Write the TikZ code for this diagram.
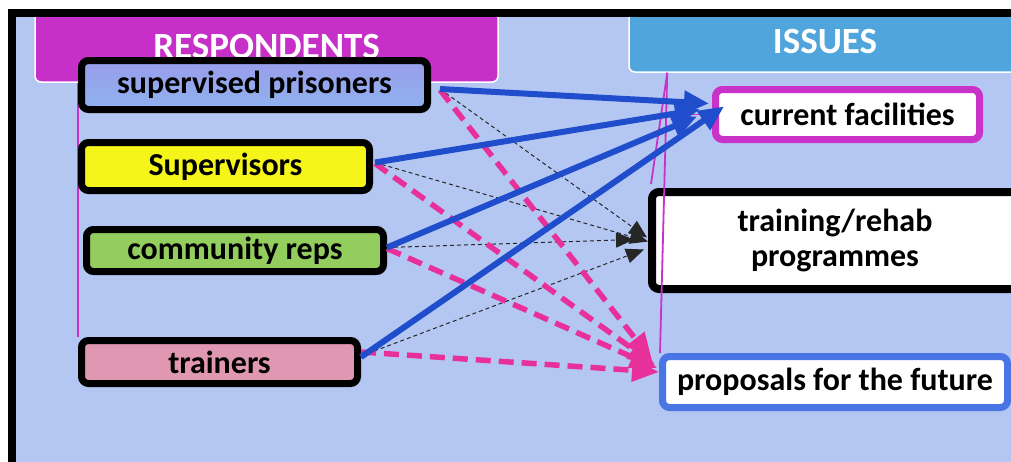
\documentclass[tikz,border=0pt]{standalone}
\usepackage{fontspec}
\setmainfont{Carlito}
\usetikzlibrary{arrows.meta}

\definecolor{bgblue}{RGB}{180,199,243}
\definecolor{resphead}{RGB}{198,48,200}
\definecolor{issuehead}{RGB}{79,165,220}
\definecolor{spTop}{RGB}{153,157,235}
\definecolor{spBot}{RGB}{143,178,238}
\definecolor{supyellow}{RGB}{245,245,26}
\definecolor{crgreen}{RGB}{146,205,94}
\definecolor{trpink}{RGB}{224,151,177}
\definecolor{cfmag}{RGB}{200,50,200}
\definecolor{pfblue}{RGB}{74,117,229}
\definecolor{arrblue}{RGB}{31,77,203}
\definecolor{arrpink}{RGB}{232,48,154}

\pgfdeclarelayer{panel}
\pgfdeclarelayer{under}
\pgfsetlayers{panel,under,main}

\tikzset{
  header/.style={rectangle, rounded corners=6pt, draw=white, line width=1.5pt,
    text=white, font=\bfseries\fontsize{37}{40}\selectfont, inner sep=0pt},
  respbox/.style={rectangle, rounded corners=7pt, draw=black, line width=7pt,
    font=\bfseries\fontsize{32}{35}\selectfont, inner sep=0pt},
  issuebox/.style={rectangle, rounded corners=7pt, fill=white, line width=7pt,
    font=\bfseries\fontsize{32}{35}\selectfont, inner sep=0pt, align=center},
  linkline/.style={draw=cfmag, line width=1.8pt},
  facarrow/.style={draw=arrblue, line width=6pt,
    -{Triangle[length=25pt,width=22pt]}},
  progarrow/.style={draw=black!85, line width=1pt, dash pattern=on 4pt off 3pt,
    -{Triangle[length=18pt,width=15pt]}},
  proparrow/.style={draw=arrpink, line width=5.5pt, dash pattern=on 15pt off 8pt,
    -{Triangle[length=27pt,width=22pt]}}
}

\begin{document}
\begin{tikzpicture}[x=1pt,y=-1pt]
\useasboundingbox (0,0) rectangle (1011,461);
\clip (0,0) rectangle (1011,461);

\begin{pgfonlayer}{panel}
% panel background
\fill[bgblue] (12,13) rectangle (1040,480);
% column headers
\node[header, fill=resphead, minimum width=463pt, minimum height=71pt]
  (rh) at (266.5,46.5) {RESPONDENTS};
\node[header, fill=issuehead, minimum width=392pt, minimum height=60pt]
  (ih) at (825,42) {ISSUES};
% panel frame
\draw[black, line width=8pt] (12,13) rectangle (1040,480);
\end{pgfonlayer}

% issues
\node[issuebox, draw=black, line width=8pt, minimum width=366pt, minimum height=97pt]
  (tp) at (835,240.5) {training/rehab\\programmes};
\node[issuebox, draw=cfmag, minimum width=264pt, minimum height=50pt]
  (cf) at (847.5,114.5) {current facilities};
\node[issuebox, draw=pfblue, minimum width=345pt, minimum height=51pt]
  (pf) at (835,382) {proposals for the future};

% issues bracket lines (offsets in picture units, y downwards)
\draw[linkline] ([xshift=39pt]ih.south west) -- ([shift={(3,-4)}]tp.north west);
\draw[linkline] ([xshift=39pt]ih.south west) -- ([xshift=1pt]pf.north west);
\draw[linkline] ([xshift=-45pt]cf.west) -- (cf.west);

% respondents
\node[respbox, top color=spTop, bottom color=spBot, minimum width=346pt, minimum height=49pt]
  (sp) at (254.5,85) {supervised prisoners};
\node[respbox, fill=supyellow, minimum width=288pt, minimum height=48pt]
  (sup) at (225.5,166.5) {Supervisors};
\node[respbox, fill=crgreen, minimum width=297pt, minimum height=42pt]
  (cr) at (235,250.5) {community reps};
\node[respbox, fill=trpink, minimum width=276pt, minimum height=43pt]
  (tr) at (219.5,362) {trainers};

% respondents bracket line, behind the boxes
\begin{pgfonlayer}{under}
\draw[linkline] (tr.north west |- rh.south) -- (tr.north west);
\end{pgfonlayer}

% respondents -> training/rehab programmes
\draw[progarrow] ([shift={(9,4)}]sp.east) -- ([shift={(-1,-3)}]tp.west);
\draw[progarrow] ([shift={(2,-4)}]sup.east) -- ([shift={(0,1)}]tp.west);
\draw[progarrow] ([shift={(0,-3)}]cr.east) -- ([shift={(-14,-1)}]tp.west);
\draw[progarrow] ([shift={(0,-6)}]tr.east) -- ([shift={(-4,9)}]tp.west);

% respondents -> proposals for the future
\draw[proparrow] ([shift={(9,5)}]sp.east) -- ([shift={(-7,-22)}]pf.west);
\draw[proparrow] ([shift={(2,-3)}]sup.east) -- ([shift={(-4,-17)}]pf.west);
\draw[proparrow] ([shift={(0,-2)}]cr.east) -- ([shift={(-2,-14)}]pf.west);
\draw[proparrow] ([shift={(0,-10)}]tr.east) -- ([shift={(0,-10)}]pf.west);

% respondents -> current facilities
\draw[facarrow] ([shift={(9,4)}]sp.east) -- ([shift={(-3,-11)}]cf.west);
\draw[facarrow] ([shift={(2,-4)}]sup.east) -- ([shift={(-12,-5)}]cf.west);
\draw[facarrow] ([shift={(0,-3)}]cr.east) -- ([shift={(-15,2)}]cf.west);
\draw[facarrow] ([shift={(0,-5)}]tr.east) -- ([shift={(12,-8)}]cf.west);
\end{tikzpicture}
\end{document}
